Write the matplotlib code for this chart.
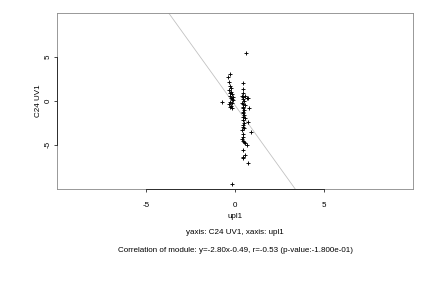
import matplotlib
matplotlib.use("Agg")
import matplotlib.pyplot as plt
import numpy as np

plt.rcParams['font.family'] = ['Liberation Sans', 'DejaVu Sans']
plt.rcParams['axes.unicode_minus'] = False

# left cluster
x_left = [-0.28, -0.38, -0.32, -0.28, -0.24, -0.32, -0.23, -0.28, -0.19, -0.28,
          -0.13, -0.24, -0.19, -0.09, -0.28, -0.15, -0.32, -0.23, -0.28, -0.19, -0.72]
y_left = [3.07, 2.76, 2.20, 1.70, 1.44, 1.25, 1.06, 0.87, 0.76, 0.57,
          0.49, 0.30, 0.19, 0.11, -0.08, -0.19, -0.34, -0.57, -0.72, -0.83, -0.15]
# right cluster
x_right = [0.47, 0.47, 0.47, 0.41, 0.55, 0.43, 0.66, 0.75, 0.47, 0.53,
           0.41, 0.47, 0.55, 0.43, 0.47, 0.79, 0.51, 0.47, 0.43, 0.53,
           0.47, 0.55, 0.47, 0.75, 0.53, 0.43, 0.47, 0.53, 0.41, 0.90,
           0.47, 0.43, 0.41, 0.47, 0.53, 0.55, 0.66, 0.47, 0.55, 0.43,
           0.47, 0.75]
y_right = [2.01, 1.33, 0.87, 0.61, 0.57, 0.42, 0.30, 0.30, 0.19, 0.04,
           -0.19, -0.34, -0.45, -0.64, -0.83, -0.83, -1.02, -1.21, -1.40, -1.59,
           -1.78, -1.97, -2.16, -2.35, -2.54, -2.73, -2.92, -3.11, -3.30, -3.48,
           -3.75, -4.05, -4.36, -4.51, -4.62, -4.81, -5.00, -5.57, -6.14, -6.33,
           -6.52, -7.08]
# outliers
x_out = [-0.19, 0.62]
y_out = [-9.43, 5.45]

slope = -2.80
intercept = -0.49
r_value = -0.53
p_value = -1.800e-01

x_all = np.array(x_left + x_right + x_out)
y_all = np.array(y_left + y_right + y_out)

fig = plt.figure(figsize=(6, 4), dpi=72)
ax = fig.add_axes([0.132, 0.344, 0.824, 0.611])
ax.set_xlim(-10.05, 10.05)
ax.set_ylim(-10.0, 10.0)

ax.scatter(x_all, y_all, marker='+', s=22, c='black', linewidths=0.9, zorder=3)

xx = np.array([-10.05, 10.05])
ax.plot(xx, slope * xx + intercept, color='#c0c0c0', lw=0.8, zorder=2)

for s in ax.spines.values():
    s.set_color('#909090')
    s.set_linewidth(0.9)

ax.set_xticks([-5, 0, 5])
ax.set_yticks([-5, 0, 5])
ax.tick_params(direction='out', length=3, width=0.7, labelsize=8)
ax.tick_params(axis='x', pad=10)
ax.tick_params(axis='y', pad=2)
ax.set_yticklabels(['-5', '0', '5'], rotation=90, va='center')
ax.plot([-5, 5], [0, 0], transform=ax.get_xaxis_transform(), color='#303030',
        lw=1.0, clip_on=False, zorder=4)
ax.plot([0, 0], [-5, 5], transform=ax.get_yaxis_transform(), color='#303030',
        lw=1.0, clip_on=False, zorder=4)

ax.set_xlabel('upl1', fontsize=8, labelpad=4)
ax.set_ylabel('C24 UV1', fontsize=8, labelpad=3)

cx = 0.132 + 0.824 / 2
fig.text(cx, 1 - 233 / 288, 'yaxis: C24 UV1, xaxis: upl1', ha='center', va='center', fontsize=8)
fig.text(cx, 1 - 250 / 288,
         'Correlation of module: y=%.2fx%.2f, r=%.2f (p-value:%.3e)' % (slope, intercept, r_value, p_value),
         ha='center', va='center', fontsize=8)

fig.savefig('out.png', dpi=72)
